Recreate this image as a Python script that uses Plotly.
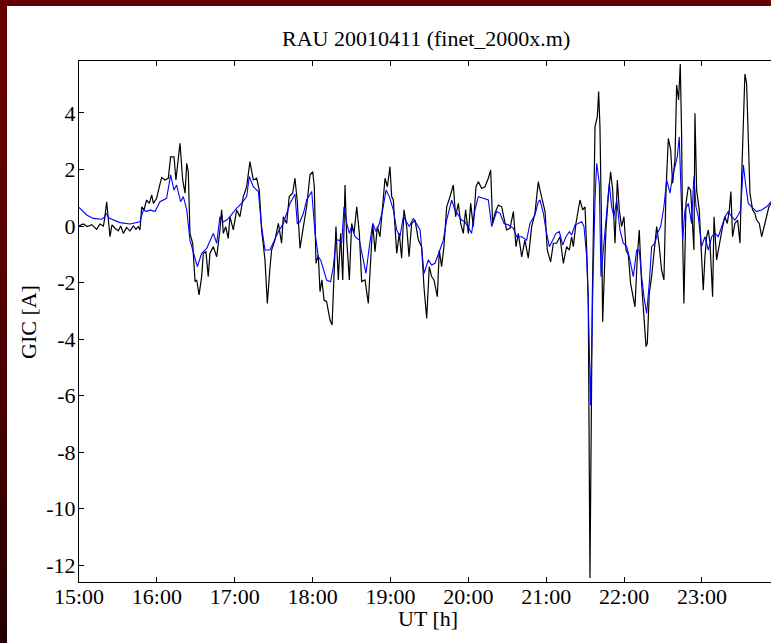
import plotly.graph_objects as go
import pandas as pd

# Minutes after 15:00 UT and GIC [A]
measured_min = [0, 3.3, 6.4, 9.8, 13.6, 16.2, 18.8, 20.0, 21.3, 22.6, 23.9, 25.4, 27.7, 30.3, 32.1, 34.2,
                36.7, 39.3, 41.9, 43.9, 45.7, 47.0, 48.3, 50.1, 52.1, 54.2, 56.0, 57.3, 59.8, 61.9, 63.7,
                66.3, 68.8, 70.6, 73.2, 74.7, 77.8, 79.9, 81.7, 83.0, 84.2, 85.5, 87.6, 89.4, 90.7, 92.5,
                94.5, 95.8, 97.8, 99.6, 100.9, 103.5, 106.1, 108.6, 109.9, 111.2, 113.0, 115.0, 116.3,
                118.9, 121.5, 124.0, 126.6, 129.2, 131.7, 134.3, 136.9, 138.9, 140.7, 143.3, 145.1, 147.1,
                148.4, 151.0, 153.6, 156.1, 157.4, 160.0, 162.0, 164.6, 166.4, 168.2,
                170.3, 172.9, 175.4, 178.0, 180.1, 181.3, 182.6, 184.4, 185.7, 187.2, 188.8, 190.8, 193.4,
                195.0, 196.0, 198.0, 199.8, 201.6, 203.2, 205.0, 206.3, 208.3, 210.1, 211.9, 214.0, 216.0,
                217.8, 220.4, 222.9, 224.7, 226.3, 228.1, 229.9, 231.9, 233.7, 235.8, 237.6, 239.6, 240.9,
                242.2, 244.8, 246.8, 248.6, 250.4, 252.5, 254.3, 256.3, 258.9, 261.5, 264.0, 265.8, 267.9,
                269.9, 271.7, 273.5, 276.1, 277.6, 279.4, 281.2, 283.3, 285.9, 288.4, 290.2, 292.3, 294.1,
                296.1, 297.9, 300.0, 301.8, 303.8, 305.9, 307.7, 310.3, 312.8, 315.4, 317.2, 318.7, 320.5,
                323.1, 325.7, 327.5, 329.5, 332.1, 334.7, 336.7, 338.5, 341.1, 343.6, 346.2, 348.8, 351.3,
                353.9, 355.2, 357.3, 359.1, 360.8, 363.4, 365.5, 368.0, 370.6, 373.2, 375.7, 377.8, 379.6,
                380.9, 382.9, 384.7, 386.0, 388.1, 389.9, 391.2, 392.4, 393.7, 395.5, 397.6, 399.4, 400.4,
                401.4, 402.7, 403.5, 404.5, 406.0, 407.8, 409.6, 411.2, 413.0, 414.8, 416.3, 418.1, 419.9,
                421.5, 423.3, 425.0, 426.6, 428.4, 430.2, 431.7, 433.5, 435.3, 436.9, 437.9, 439.4, 441.2,
                443.0, 445.1, 447.1, 448.9, 450.7, 452.3, 454.1, 455.9, 457.4, 459.2, 460.5, 462.0, 463.3,
                464.3, 465.1, 466.1, 467.7, 469.5, 471.3, 472.8, 473.8, 474.6, 475.9, 477.9, 479.7, 481.0,
                482.3, 483.6, 484.9, 486.2, 488.2, 489.3, 491.3, 493.9, 495.9, 497.7, 499.5, 501.1, 502.3,
                503.6, 505.4, 507.5, 509.3, 510.6, 511.9, 513.1, 514.4, 515.7, 517.0, 519.0, 520.8, 522.1,
                524.2, 526.0, 527.8, 529.8, 531.6, 533.2, 535.0]
measured_gic = [0.00, 0.07, -0.02, 0.05, -0.12, 0.07, 0.00, 0.33, 0.86, 0.33, -0.38, 0.04, -0.08, -0.17, 0.00,
                -0.26, -0.05, -0.17, 0.00, -0.12, -0.02, -0.14, 0.68, 0.57, 0.92, 0.80, 1.10, 0.80, 0.98, 1.39,
                1.72, 1.63, 1.69, 2.45, 2.45, 1.63, 2.93, 1.63, 1.16, 2.22, 1.92, -0.26, -0.61, -1.97, -1.91,
                -2.44, -1.79, -0.97, -0.91, -1.79, -0.97, -0.73, -1.09, -0.14, 0.57, -0.26, -0.02, -0.44, 0.33,
                -0.14, 0.57, 0.33, 1.04, 1.39, 2.28, 1.63, 1.69, 1.27, -0.14, -1.20, -2.74, -1.50, -0.85, -0.50,
                0.09, -0.61, 0.33, 0.09, 1.04, 1.16, 1.69, 0.86,
                -0.79, -0.02, 0.68, 1.81, 1.92, 1.39, -1.32, -1.03, -2.32, -1.91, -2.62, -2.68, -3.33, -3.50,
                -2.15, -0.02, -1.91, -0.26, -1.91, 1.45, -0.50, -1.91, 0.09, -0.26, 0.68, -0.26, -1.97, -1.91,
                -2.74, -0.97, 0.09, -0.91, -0.02, -0.38, 0.57, 1.69, 1.39, 2.10, 1.04, 0.92, -0.97, -0.26,
                -1.14, 0.57, -0.02, -1.09, 0.09, 0.21, -0.50, -0.73, -2.15, -3.27, -1.44, -1.79, -1.91, -2.50,
                -0.85, -1.44, -0.73, 0.68, 1.04, 1.45, 0.33, 0.80, 0.09, -0.26, 0.57, -0.26, 0.80, -0.02, 1.39,
                1.57, 1.33, 1.39, 1.69, 1.98, 0.09, 0.45, 0.74, 0.68, 0.27, -0.14, -0.08, 0.51, -0.73, -0.26,
                -1.09, -0.50, -1.14, -0.02, 0.45, 1.57, 1.27, 0.86, 0.51, -0.85, -1.27, -0.61, -0.61, -0.38,
                -1.32, -0.73, -0.85, -0.38, -0.73, 0.09, 0.57, 0.92, 0.57, 0.68, -0.85, -2.60, -12.46, -2.60,
                3.52, 3.87, 4.76, 3.52, -0.26, -3.39, -2.03, -0.14, 1.04, 1.92, 1.27, -0.61, 1.63, 0.57, -0.02,
                0.33, -0.85, -1.03, -2.03, -2.50, -2.86, -1.09, -0.14, -2.03, -3.33, -4.27, -4.15, -2.38, -1.79,
                -0.85, -0.02, -0.73, -1.56, -1.91, 1.27, 3.10, 2.69, 1.51, 2.34, 4.99, 4.46, 5.73, 3.28, -0.38,
                -2.74, 0.80, 1.39, 1.27, 0.09, -0.85, 3.99, 1.27, 0.57, -0.97, -2.27, -1.09, -0.38, -0.14, -0.61,
                -2.50, 0.33, -1.20, -0.50, -0.02, 0.33, 0.09, 0.57, 1.22, -0.38, 0.09, 0.21, -0.61, 1.75, 3.87,
                5.38, 5.05, 3.16, 1.16, 0.57, 0.45, 0.21, 0.09, -0.38, -0.02, 0.33, 0.68, 0.80, 0.85]

modelled_min = [0, 3.3, 5.9, 11.0, 17.5, 19.5, 20.8, 23.4, 26.5, 31.6, 39.3, 47.0, 49.6, 52.1, 54.7, 58.6,
                62.4, 67.5, 70.6, 73.2, 75.2, 78.3, 80.4, 83.0, 85.5, 88.1, 91.2, 94.5, 98.4, 103.5, 106.1,
                108.6, 111.2, 113.8, 116.3, 121.5, 125.3, 129.2, 131.2, 134.3, 138.2, 140.7, 143.3, 147.1,
                149.7, 153.6, 157.4, 162.6, 166.4, 168.2,
                170.3, 172.9, 175.4, 179.3, 181.9, 184.4, 186.2, 188.8, 190.8, 193.9, 196.0, 198.0, 200.6,
                202.4, 204.2, 206.3, 208.3, 210.1, 212.7, 216.0, 218.6, 221.1, 223.7, 226.3, 228.9, 231.4,
                234.0, 236.6, 239.1, 242.2, 244.8, 247.3, 249.9, 252.0, 254.5, 257.6, 260.2, 262.8, 265.8,
                269.2, 271.7, 274.3, 277.6, 280.7, 283.3, 287.1, 289.7, 292.3, 294.8, 297.4, 300.0, 302.5,
                305.1, 307.7, 311.5, 315.4, 318.0, 321.8, 324.4, 327.5, 330.8, 334.7, 337.2, 341.1, 344.9,
                347.5, 351.3, 353.9, 355.2, 357.8, 359.8, 362.4, 365.0, 367.5, 370.1, 372.7, 375.2, 377.8,
                379.6, 382.2, 384.7, 387.3, 389.1, 391.2, 392.4, 394.2, 396.0, 397.6, 398.9, 400.9, 402.2,
                404.0, 406.0, 408.6, 410.4, 412.2, 414.3, 416.8, 419.4, 422.0, 424.5, 427.1, 429.7, 431.7,
                433.5, 435.3, 437.4, 439.4, 441.2, 443.8, 445.6, 448.2, 450.7, 452.8, 455.4, 457.4, 459.2,
                461.0, 462.5, 463.6, 465.1, 466.9, 469.5, 472.0, 473.8, 475.4, 477.2, 479.7, 482.3, 484.9,
                487.5, 490.0, 492.6, 495.2, 497.7, 500.3, 502.9, 505.4, 508.0, 509.8, 511.9, 513.9, 515.7,
                518.3, 522.1, 526.0, 529.8, 533.2, 535.0]
modelled_gic = [0.66, 0.51, 0.39, 0.27, 0.24, 0.31, 0.45, 0.27, 0.21, 0.12, 0.07, 0.15, 0.57, 0.51, 0.57, 0.51,
                0.86, 0.98, 1.81, 1.27, 1.45, 0.86, 1.04, 0.57, -0.50, -0.97, -1.44, -0.97, -0.79, -0.26, -0.61,
                0.33, 0.15, 0.21, 0.33, 0.63, 0.80, 1.04, 1.75, 1.39, 1.22, -0.02, -0.85, -0.85, -0.61, -0.20,
                0.09, 0.80, 1.13, 0.09,
                0.15, 0.45, 0.92, 1.22, -0.26, -1.09, -1.20, -1.56, -1.91, -1.97, -1.44, -0.50, -0.50, -0.61,
                0.68, 0.09, -0.26, -0.02, -0.38, -0.50, -1.14, -1.68, -0.73, 0.09, -0.20, 0.09, 0.57, 1.27,
                1.04, 0.57, -0.14, -0.38, 0.33, 0.15, -0.02, 0.27, 0.04, -0.14, -1.68, -1.20, -1.38, -1.32,
                -0.91, -0.50, 0.21, 0.92, 0.57, 0.39, 0.21, 0.15, -0.08, -0.26, 0.57, 1.04, 0.98, 0.92, -0.02,
                0.51, 0.45, 0.09, 0.04, -0.08, -0.38, -0.38, -0.50, 0.09, 0.39, 0.86, 0.92, 0.45, -0.14, -0.73,
                -0.50, -0.26, -0.20, -0.67, -0.38, -0.20, -0.32, 0.04, 0.09, 0.15, -0.02, -1.09, -2.74, -6.34,
                -2.00, 0.92, 2.22, 1.51, -1.79, -0.85, 0.33, 1.51, 0.68, 0.33, 0.92, -0.14, -0.61, -0.73, -1.20,
                -1.79, -0.85, -0.85, -1.79, -2.50, -3.09, -2.03, -0.73, -0.61, -0.26, -0.02, 0.68, 1.63, 1.16,
                1.81, 2.10, 2.45, 3.16, 1.75, -0.50, 0.57, 0.80, 0.09, 1.75, 0.68, 0.33, -0.73, -0.38, -0.85,
                -0.38, -0.26, -0.38, -0.02, 0.33, 0.51, 0.33, 0.21, 0.39, 0.57, 2.16, 1.39, 0.80, 0.68, 0.51,
                0.57, 0.68, 0.86, 0.88]

y_ticks = [-12, -10, -8, -6, -4, -2, 0, 2, 4]
y_tick_labels = ["-12", "-10", "-8", "-6", "-4", "-2", "0", "2", "4"]

base = pd.Timestamp("2001-04-11 15:00:00")
mx = [base + pd.Timedelta(minutes=m) for m in measured_min]
px = [base + pd.Timedelta(minutes=m) for m in modelled_min]
x_ticks = [base + pd.Timedelta(hours=h) for h in range(0, 9)]
x_end = base + pd.Timedelta(minutes=533.2)

FONT = "Liberation Serif"

fig = go.Figure()
fig.add_trace(go.Scatter(x=mx, y=measured_gic, mode="lines",
                         line=dict(color="#000000", width=1.2), showlegend=False))
fig.add_trace(go.Scatter(x=px, y=modelled_gic, mode="lines",
                         line=dict(color="#0000ff", width=1.1), showlegend=False))

W, H = 771, 643
L, R, T, B = 79, 0, 61, 61
pw, ph = W - L - R, H - T - B

def xp(pix):
    return (pix - L) / pw

def yp(pix):
    return (H - B - pix) / ph

shapes = []
# top dark red band
shapes.append(dict(type="rect", xref="paper", yref="paper", x0=xp(-2), x1=xp(W + 2),
                   y0=yp(6), y1=yp(-2), fillcolor="#660000", line=dict(width=0), layer="above"))
# left band with vertical gradient
n = 40
top_c = (0x66, 0x00, 0x00)
bot_c = (0x24, 0x00, 0x00)
for i in range(n):
    y0p = 6 + (H - 6) * i / n
    y1p = 6 + (H - 6) * (i + 1) / n + 1
    f = (i / (n - 1)) ** 1.6
    c = tuple(int(round(top_c[k] + (bot_c[k] - top_c[k]) * f)) for k in range(3))
    shapes.append(dict(type="rect", xref="paper", yref="paper", x0=xp(-2), x1=xp(7),
                       y0=yp(y1p), y1=yp(y0p), fillcolor="rgb(%d,%d,%d)" % c,
                       line=dict(width=0), layer="above"))

fig.update_layout(
    width=W, height=H,
    margin=dict(l=L, r=R, t=T, b=B, autoexpand=False),
    paper_bgcolor="white", plot_bgcolor="white",
    font=dict(family=FONT, size=22, color="black"),
    shapes=shapes,
    xaxis=dict(range=[base, x_end], tickvals=x_ticks, tickformat="%H:%M",
               ticks="inside", ticklen=5, tickcolor="black", tickwidth=1,
               showline=True, linecolor="black", linewidth=1, mirror="ticks",
               showgrid=False, zeroline=False, ticklabelstandoff=-5,
               tickfont=dict(family=FONT, size=22, color="black")),
    yaxis=dict(range=[-12.6, 5.84], tickvals=y_ticks, ticktext=y_tick_labels,
               ticks="inside", ticklen=5, tickcolor="black", tickwidth=1,
               showline=True, linecolor="black", linewidth=1, mirror=False,
               showgrid=False, zeroline=False, ticklabelstandoff=-2,
               tickfont=dict(family=FONT, size=22, color="black")),
    annotations=[
        dict(text="RAU 20010411 (finet_2000x.m)", xref="paper", yref="paper",
             x=xp(426), y=yp(38), showarrow=False, xanchor="center", yanchor="middle",
             font=dict(family=FONT, size=22, color="black")),
        dict(text="UT [h]", xref="paper", yref="paper",
             x=xp(428), y=yp(618), showarrow=False, xanchor="center", yanchor="middle",
             font=dict(family=FONT, size=22, color="black")),
        dict(text="GIC [A]", xref="paper", yref="paper", textangle=-90,
             x=xp(28), y=yp(322), showarrow=False, xanchor="center", yanchor="middle",
             font=dict(family=FONT, size=22, color="black")),
    ],
)

fig.write_html(
    "out.html",
    config={"displayModeBar": False},
    post_script="document.body.style.margin='0';document.body.style.padding='0';"
                "document.body.style.overflow='hidden';",
)
